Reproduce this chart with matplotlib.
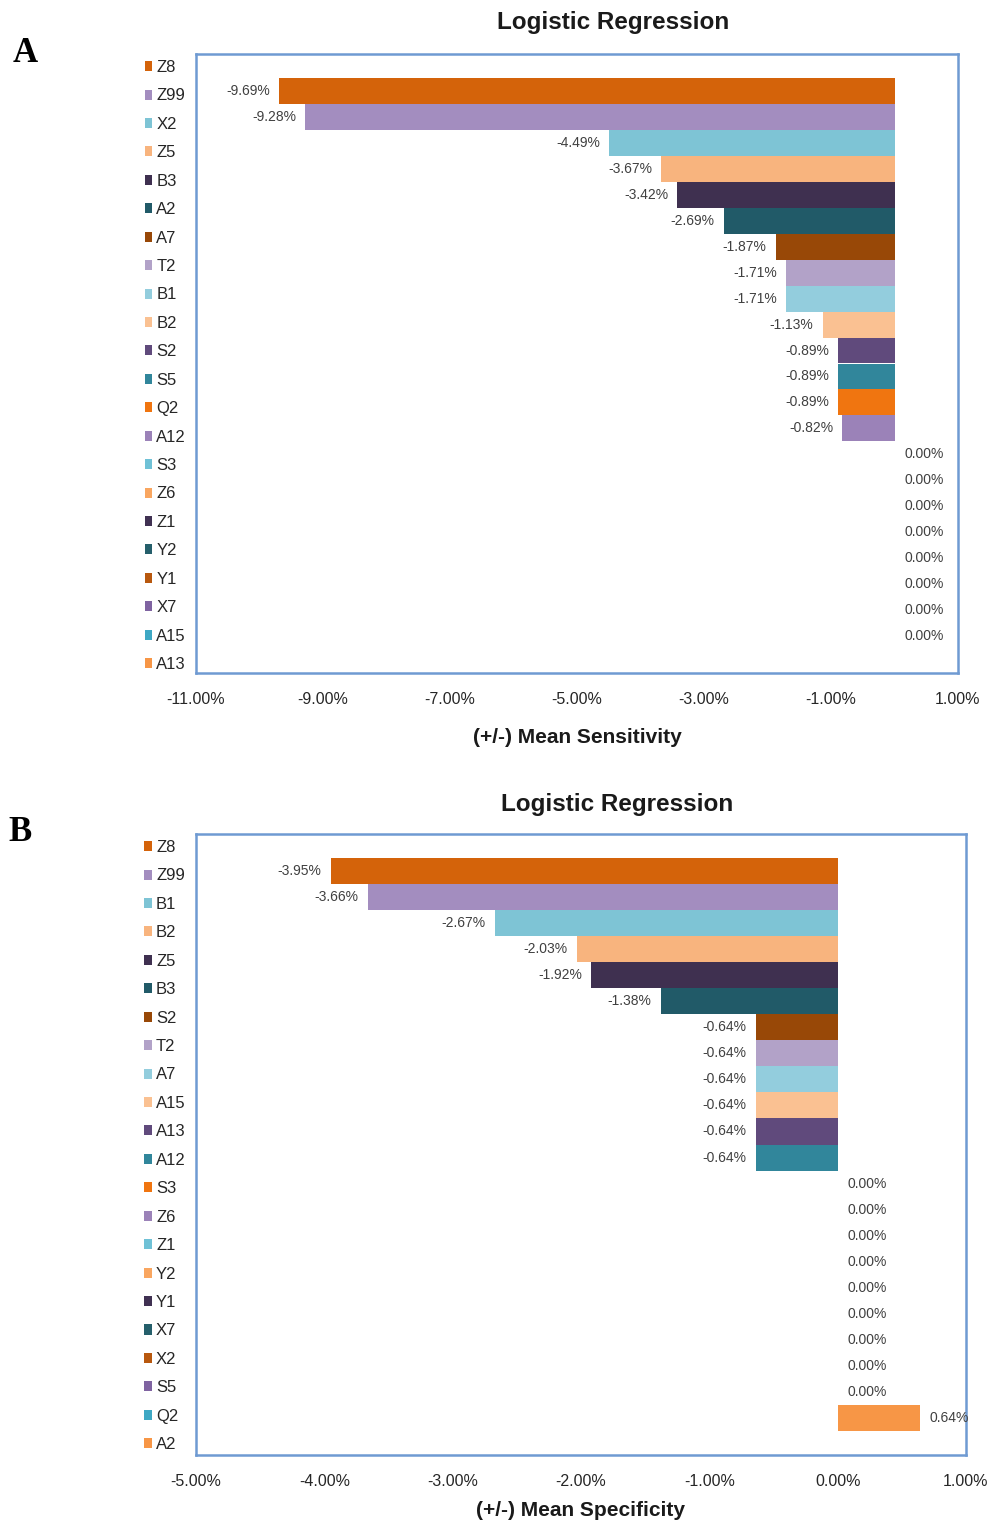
import numpy as np
import matplotlib.pyplot as plt

plt.rcParams['font.family'] = ['Liberation Sans', 'DejaVu Sans']

# Panel A: change in mean sensitivity per removed variable (%)
sens_labels = ['Z8', 'Z99', 'X2', 'Z5', 'B3', 'A2', 'A7', 'T2', 'B1', 'B2', 'S2',
               'S5', 'Q2', 'A12', 'S3', 'Z6', 'Z1', 'Y2', 'Y1', 'X7', 'A15', 'A13']
sens_values = [-9.69, -9.28, -4.49, -3.67, -3.42, -2.69, -1.87, -1.71, -1.71, -1.13, -0.89,
               -0.89, -0.89, -0.82, 0.00, 0.00, 0.00, 0.00, 0.00, 0.00, 0.00, 0.00]

# Panel B: change in mean specificity per removed variable (%)
spec_labels = ['Z8', 'Z99', 'B1', 'B2', 'Z5', 'B3', 'S2', 'T2', 'A7', 'A15', 'A13',
               'A12', 'S3', 'Z6', 'Z1', 'Y2', 'Y1', 'X7', 'X2', 'S5', 'Q2', 'A2']
spec_values = [-3.95, -3.66, -2.67, -2.03, -1.92, -1.38, -0.64, -0.64, -0.64, -0.64, -0.64,
               -0.64, 0.00, 0.00, 0.00, 0.00, 0.00, 0.00, 0.00, 0.00, 0.00, 0.64]

# series colours, same order in both panels
colors = ['#D4630A', '#A38DBF', '#7EC4D5', '#F8B47E', '#3F3050', '#215A68',
          '#984807', '#B2A2C8', '#93CDDD', '#FAC192', '#604A7C', '#31869B',
          '#F07510', '#9B82B8', '#6FC1D6', '#F9A660', '#403152', '#255F6B',
          '#B8580E', '#7F63A1', '#3EA8C4', '#F79646']

fig = plt.figure(figsize=(9.89, 15.26), dpi=100)
W, H = 989, 1526


def panel(box, labels, values, xmin, xmax, title, title_x, title_y, xlabel, xlabel_y, letter, letter_xy):
    x0, y0, x1, y1 = box
    ax = fig.add_axes([x0 / W, 1 - y1 / H, (x1 - x0) / W, (y1 - y0) / H])
    n = len(values)
    ypos = np.arange(n)
    for i, (lab, v) in enumerate(zip(labels, values)):
        ax.barh(ypos[i], v, height=1.0, color=colors[i], label=lab)
        txt = '%.2f%%' % v
        if v < 0:
            ax.text(v - 0.012 * (xmax - xmin), ypos[i], txt, ha='right', va='center',
                    fontsize=10, color='#404040')
        else:
            ax.text(v + 0.013 * (xmax - xmin), ypos[i], txt, ha='left', va='center',
                    fontsize=10, color='#404040')
    ax.set_xlim(xmin, xmax)
    ax.set_ylim(n - 0.5 + 0.92, -0.5 - 0.92)
    ticks = np.arange(xmin, xmax + 0.001, 2 if (xmax - xmin) > 8 else 1)
    ax.set_xticks(ticks)
    ax.set_xticklabels(['%.2f%%' % t for t in ticks], fontsize=11.5, color='#262626')
    ax.tick_params(axis='x', length=0, pad=14)
    ax.set_yticks([])
    for s in ax.spines.values():
        s.set_color('#6F9AD2')
        s.set_linewidth(1.8)
    leg = ax.legend(loc='upper right', bbox_to_anchor=(-0.011, 0.993), frameon=False,
                    fontsize=12, handlelength=0.45, handleheight=0.55, handletextpad=0.25,
                    labelspacing=0.806, borderaxespad=0, borderpad=0.1)
    for t in leg.get_texts():
        t.set_color('#262626')
    fig.text(title_x / W, 1 - title_y / H, title, ha='center', va='center',
             fontsize=17.5, fontweight='bold', color='#1a1a1a')
    fig.text((x0 + x1) / 2 / W, 1 - xlabel_y / H, xlabel, ha='center', va='center',
             fontsize=15, fontweight='bold', color='#1a1a1a')
    fig.text(letter_xy[0] / W, 1 - letter_xy[1] / H, letter, ha='center', va='center',
             fontsize=25, fontweight='bold', family='Liberation Serif', color='black')
    return ax


panel((196, 54, 958, 673), sens_labels, sens_values, -11, 1, 'Logistic Regression', 613, 23,
      '(+/-) Mean Sensitivity', 738, 'A', (25, 54))
panel((196, 834, 966, 1455), spec_labels, spec_values, -5, 1, 'Logistic Regression', 617, 804,
      '(+/-) Mean Specificity', 1511, 'B', (20, 832))

fig.savefig('out.png', dpi=100)
